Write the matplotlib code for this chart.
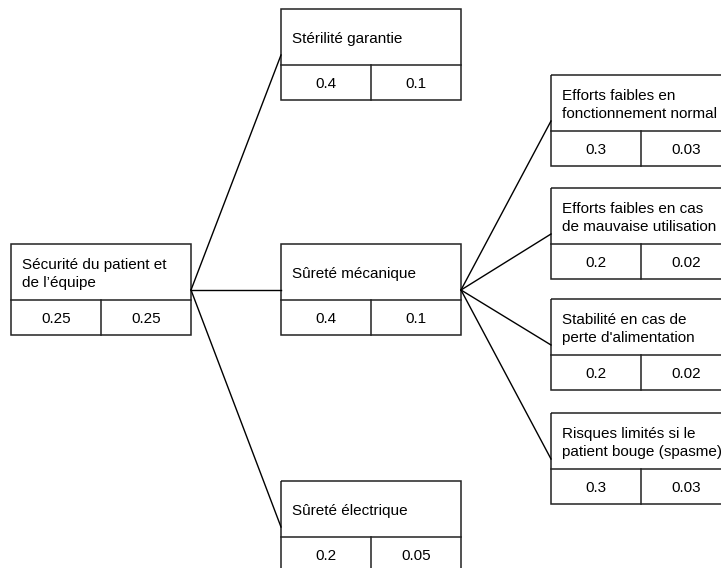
import matplotlib
matplotlib.use('Agg')
import matplotlib.pyplot as plt
from matplotlib.patches import Rectangle

plt.rcParams['font.family'] = ['Liberation Sans', 'DejaVu Sans']

labels = [
    "Sécurité du patient et\nde l’équipe",
    "Stérilité garantie",
    "Sûreté mécanique",
    "Sûreté électrique",
    "Efforts faibles en\nfonctionnement normal",
    "Efforts faibles en cas\nde mauvaise utilisation",
    "Stabilité en cas de\nperte d'alimentation",
    "Risques limités si le\npatient bouge (spasme)",
]
local_weights = [0.25, 0.4, 0.4, 0.2, 0.3, 0.2, 0.2, 0.3]
global_weights = [0.25, 0.1, 0.1, 0.05, 0.03, 0.02, 0.02, 0.03]
parents = [None, 0, 0, 0, 2, 2, 2, 2]

# layout (pixels)
depth = [0, 1, 1, 1, 2, 2, 2, 2]
col_x = [11, 281, 551]
tops = [244, 9, 244, 481, 75, 188, 299, 413]
box_w = 180
text_h = 56
val_h = 35
link_dy = 46


def main():
    fig = plt.figure(figsize=(7.21, 5.68), dpi=100)
    ax = fig.add_axes([0, 0, 1, 1])
    ax.set_xlim(0, 721)
    ax.set_ylim(568, 0)
    ax.axis('off')

    for i, label in enumerate(labels):
        x = col_x[depth[i]]
        y = tops[i]
        ax.add_patch(Rectangle((x, y), box_w, text_h + val_h, fill=False,
                               edgecolor='#222222', lw=1.1))
        ax.plot([x, x + box_w], [y + text_h, y + text_h], color='#222222', lw=1.1)
        ax.plot([x + box_w / 2, x + box_w / 2], [y + text_h, y + text_h + val_h],
                color='#222222', lw=1.1)
        ax.text(x + 11, y + text_h / 2 + 2, label, ha='left', va='center',
                fontsize=11, linespacing=1.45, color='black')
        vy = y + text_h + val_h / 2 + 1.5
        ax.text(x + box_w / 4, vy, f"{local_weights[i]:g}", ha='center',
                va='center', fontsize=11)
        ax.text(x + 3 * box_w / 4, vy, f"{global_weights[i]:g}", ha='center',
                va='center', fontsize=11)

        p = parents[i]
        if p is not None:
            px = col_x[depth[p]] + box_w
            py = tops[p] + link_dy
            ax.plot([px, x], [py, y + link_dy], color='black', lw=1)

    fig.savefig('out.png', dpi=100)


if __name__ == '__main__':
    main()
